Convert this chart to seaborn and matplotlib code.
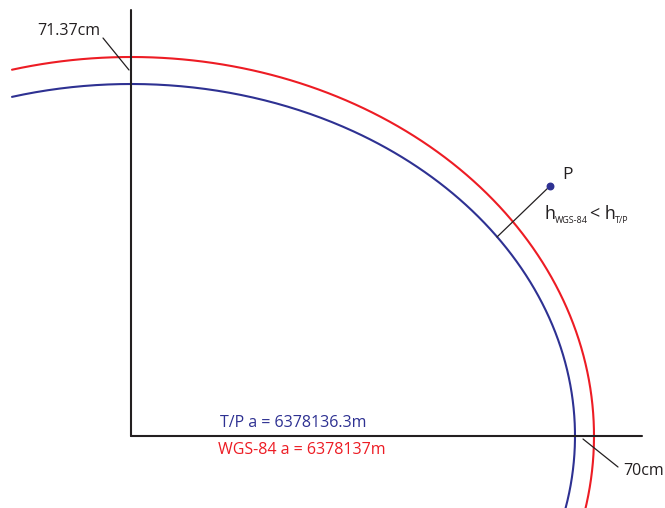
import numpy as np
import pandas as pd
import matplotlib
matplotlib.use("Agg")
import matplotlib.pyplot as plt
import seaborn as sns

# semi-axes of the two ellipses (drawing units = px)
ellipse_names = ["WGS-84", "T/P"]
semi_major = [463, 444]
semi_minor = [379, 352]
ellipse_colors = ["#ED1C24", "#2E3192"]
arc_left_x = -119   # where the arcs start on the left

sns.set_style("white")
plt.rcParams['font.family'] = ['Open Sans', 'DejaVu Sans']

fig = plt.figure(figsize=(6.65, 5.08), dpi=100)
ax = fig.add_axes([0, 0, 1, 1])

rows = []
for name, a, b in zip(ellipse_names, semi_major, semi_minor):
    t_start = np.arccos(arc_left_x / a)
    for t in np.linspace(t_start, np.radians(-20), 400):
        rows.append({"x": a * np.cos(t), "y": b * np.sin(t), "ellipse": name})
df = pd.DataFrame(rows)

sns.lineplot(data=df, x="x", y="y", hue="ellipse", palette=ellipse_colors,
             sort=False, estimator=None, linewidth=1.5, legend=False, ax=ax)

dark = "#231F20"
# axes lines
ax.plot([0, 0], [0, 426], color=dark, lw=1.5)
ax.plot([0, 511], [0, 0], color=dark, lw=1.5)

# annotations
ax.plot([-28, -2], [398, 366], color=dark, lw=0.9)
ax.text(-94, 405, "71.37cm", fontsize=11.5, va="center", ha="left", color=dark)

ax.plot([452, 487], [-3, -31], color=dark, lw=0.9)
ax.text(492, -35, "70cm", fontsize=11.5, va="center", ha="left", color=dark)

ax.plot([366, 419], [199, 250], color=dark, lw=0.9)
ax.scatter([419], [250], s=22, color="#2E3192", zorder=5)
ax.text(431, 261, "P", fontsize=12.5, va="center", ha="left", color=dark)

# h_WGS-84 < h_T/P
ax.text(414, 217, "h", fontsize=13, va="baseline", ha="left", color=dark)
ax.text(424, 213, "WGS-84", fontsize=6.5, va="baseline", ha="left", color=dark)
ax.text(459, 217, "< h", fontsize=13, va="baseline", ha="left", color=dark)
ax.text(484, 213, "T/P", fontsize=6.5, va="baseline", ha="left", color=dark)

ax.text(89, 13, "T/P a = 6378136.3m", fontsize=11.5, va="center", ha="left", color="#2E3192")
ax.text(87, -14, "WGS-84 a = 6378137m", fontsize=11.5, va="center", ha="left", color="#ED1C24")

ax.set_xlim(-131, 534)
ax.set_ylim(-72, 436)
ax.axis("off")

fig.savefig("out.png", dpi=100)
